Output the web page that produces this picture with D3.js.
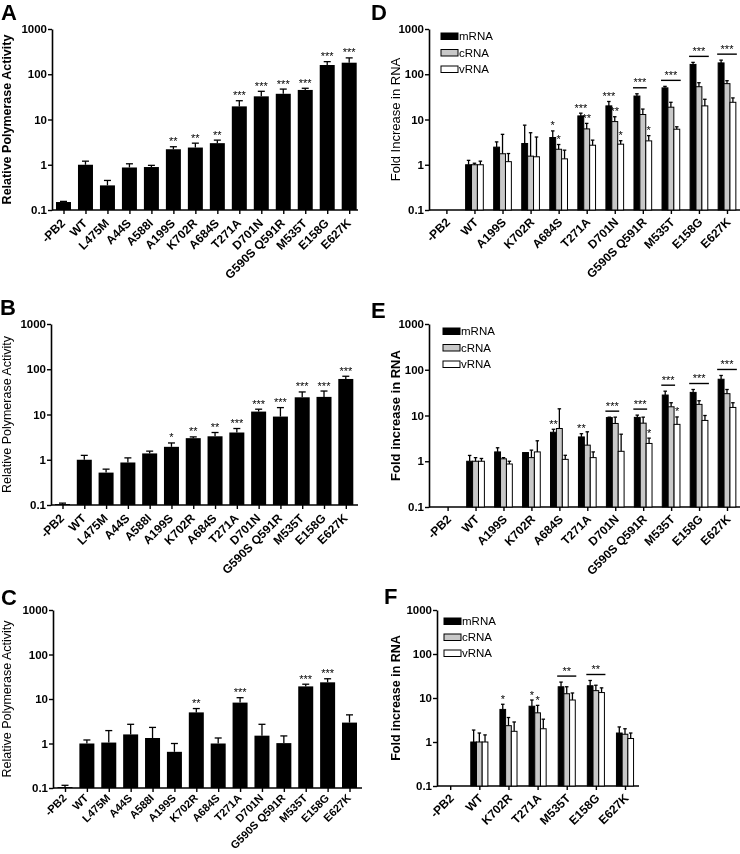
<!DOCTYPE html>
<html><head><meta charset="utf-8">
<script src="https://cdn.jsdelivr.net/npm/d3@7"></script>
<style>body{margin:0;background:#fff} svg{will-change:transform} text{font-family:"Liberation Sans",Arial,sans-serif}</style>
</head><body><svg id="c" width="740" height="854"></svg>
<script>
// ---------- DATA ----------
const catsABC = ["-PB2","WT","L475M","A44S","A588I","A199S","K702R","A684S","T271A","D701N","G590S Q591R","M535T","E158G","E627K"];
const yTicks = [0.1, 1, 10, 100, 1000];

const valuesA = [0.15,1.0,0.35,0.87,0.89,2.2,2.4,3.0,19.5,32.5,37,45,160,180];
const errTopA = [0.155,1.2,0.45,1.05,0.97,2.5,3.0,3.5,26,42,47,49,190,230];
const starsA  = ["","","","","","**","**","**","***","***","***","***","***","***"];

const valuesB = [0.105,1.0,0.52,0.87,1.38,1.93,3.0,3.3,4.0,11.6,9.0,24,24.5,61];
const errTopB = [0.11,1.25,0.62,1.1,1.55,2.35,3.2,4.0,4.9,13.1,14.2,31.5,33,70];
const starsB  = ["","","","","","*","**","**","***","***","***","***","***","***"];

const valuesC = [0.105,1.0,1.05,1.6,1.33,0.65,5.0,1.0,8.3,1.5,1.02,19.2,23.7,2.95];
const errTopC = [0.115,1.2,1.95,2.7,2.3,1.0,6.1,1.33,10.7,2.7,1.48,21.5,28.5,4.4];
const starsC  = ["","","","","","","**","","***","","","***","***",""];

const seriesNames = ["mRNA","cRNA","vRNA"];
const catsDE = ["-PB2","WT","A199S","K702R","A684S","T271A","D701N","G590S Q591R","M535T","E158G","E627K"];

const mrnaD    = [null,1.0,2.45,2.95,4.0,12,20,33,50,165,178];
const mrnaErrD = [null,1.25,3.2,7.5,5.6,13.8,25,37,54,183,205];
const mrnaStarD= ["","","","","*","***","***","","","",""];
const crnaD    = [null,1.0,1.75,1.55,2.2,6.2,9.0,12.9,18.7,53,62];
const crnaErrD = [null,1.08,4.7,5.1,2.8,8.2,11.5,17,24,65,72];
const crnaStarD= ["","","","","*","**","**","","","",""];
const vrnaD    = [null,1.0,1.17,1.5,1.35,2.7,2.85,3.37,6.1,20,24];
const vrnaErrD = [null,1.2,1.77,4.1,2.1,3.5,3.4,4.4,6.9,28,30];
const vrnaStarD= ["","","","","","","*","*","","",""];
const bracketCatsD = ["G590S Q591R","M535T","E158G","E627K"];
const bracketLabelD = ["***","***","***","***"];
const bracketSpanD = [2,3,3,3];

const mrnaE    = [null,1.0,1.6,1.55,4.3,3.4,9.0,9.1,28,32,62];
const mrnaErrE = [null,1.34,1.97,1.55,5.0,4.0,9.2,10.2,34,37,75];
const mrnaStarE= ["","","","","**","**","","","","",""];
const crnaE    = [null,1.0,1.13,1.2,5.2,2.25,6.7,6.8,15.5,17.5,30];
const crnaErrE = [null,1.2,1.2,1.75,14,4.4,9.2,9.2,19,21,37];
const crnaStarE= ["","","","","","","","","","",""];
const vrnaE    = [null,1.0,0.87,1.6,1.1,1.2,1.65,2.45,6.4,7.8,15];
const vrnaErrE = [null,1.15,1.0,2.8,1.35,1.6,3.9,3.2,9.3,10,19];
const vrnaStarE= ["","","","","","","","*","*","",""];
const bracketCatsE = ["D701N","G590S Q591R","M535T","E158G","E627K"];
const bracketLabelE = ["***","***","***","***","***"];
const bracketSpanE = [2,2,2,3,3];

const catsF = ["-PB2","WT","K702R","T271A","M535T","E158G","E627K"];
const mrnaF    = [null,1.0,5.5,6.5,18,19,1.6];
const mrnaErrF = [null,1.87,7.2,9.0,23,25,2.2];
const mrnaStarF= ["","","*","*","","",""];
const crnaF    = [null,1.0,2.35,4.6,12.5,14.7,1.5];
const crnaErrF = [null,1.6,3.6,6.8,18,19.5,2.0];
const crnaStarF= ["","","","*","","",""];
const vrnaF    = [null,1.0,1.75,2.0,9.0,13.3,1.2];
const vrnaErrF = [null,1.45,2.85,3.3,13,17,1.6];
const vrnaStarF= ["","","","","","",""];
const bracketCatsF = ["M535T","E158G"];
const bracketLabelF = ["**","**"];
const bracketSpanF = [3,3];

// ---------- STYLE ----------
const fills = ["#000000","#c8c8c8","#ffffff"];
const svg = d3.select("#c");

function drawPanel(cfg){
  const g = svg.append("g");
  const y = d3.scaleLog().domain([0.1,1000]).range([cfg.yBot, cfg.yTop]);
  const x = d3.scalePoint().domain(cfg.cats).range([cfg.c0, cfg.c1]);

  g.append("text").attr("x",cfg.letter[0]).attr("y",cfg.letter[1])
    .attr("font-size",22).attr("font-weight","bold").text(cfg.letter[2]);
  g.append("text")
    .attr("transform",`translate(${cfg.titleX},${(cfg.yTop+cfg.yBot)/2}) rotate(-90)`)
    .attr("text-anchor","middle").attr("font-size",cfg.titleSize)
    .attr("font-weight",cfg.titleBold?"bold":"normal").text(cfg.title);

  const ya = g.append("g").attr("transform",`translate(${cfg.x0},0)`)
    .call(d3.axisLeft(y).tickValues(yTicks).tickFormat(d=>String(d)).tickSize(4).tickSizeOuter(0));
  ya.select(".domain").attr("stroke-width",1.6);
  ya.selectAll(".tick line").attr("stroke-width",1.4);
  ya.selectAll("text").attr("font-size",11.5).attr("font-weight","bold")
    .attr("font-family","Liberation Sans, Arial, sans-serif").attr("fill","#000").attr("x",-5);

  const xa = g.append("g").attr("transform",`translate(0,${cfg.yBot})`)
    .call(d3.axisBottom(x).tickSize(4).tickSizeOuter(0));
  xa.select(".domain").remove();
  xa.selectAll(".tick line").attr("stroke-width",1.4);
  xa.selectAll("text").attr("font-size",cfg.labelSize).attr("font-weight","bold")
    .attr("font-family","Liberation Sans, Arial, sans-serif").attr("fill","#000")
    .attr("text-anchor","end").attr("y",0).attr("dy","0.35em")
    .attr("transform",`translate(${cfg.labelDx},${cfg.labelDy}) rotate(-45)`);
  g.append("line").attr("x1",cfg.x0).attr("x2",cfg.xEnd)
    .attr("y1",cfg.yBot).attr("y2",cfg.yBot).attr("stroke","#000").attr("stroke-width",1.6);

  const ns = cfg.series.length;
  const bw = cfg.barW;
  const barX = (cat, si) => ns===1 ? x(cat)-bw/2 : x(cat) + (si - (ns-1)/2)*bw - bw/2;
  cfg.series.forEach((s, si) => {
    cfg.cats.forEach((cat, i) => {
      const v = s.vals[i];
      if (v==null) return;
      const bx = barX(cat, si);
      g.append("rect").attr("x",bx).attr("y",y(v)).attr("width",bw)
        .attr("height",cfg.yBot - y(v)).attr("fill",fills[si])
        .attr("stroke","#000").attr("stroke-width",ns===1?0:1);
      const e = s.errs[i];
      const cx = bx + bw/2;
      if (e!=null && e>v){
        g.append("line").attr("x1",cx).attr("x2",cx).attr("y1",y(v)).attr("y2",y(e))
          .attr("stroke","#000").attr("stroke-width",1.3);
        g.append("line").attr("x1",cx-cfg.cap/2).attr("x2",cx+cfg.cap/2)
          .attr("y1",y(e)).attr("y2",y(e)).attr("stroke","#000").attr("stroke-width",1.3);
      }
      const top = y(Math.max(v, e||v));
      if (s.stars && s.stars[i]){
        g.append("text").attr("x",cx).attr("y",top-1.5).attr("text-anchor","middle")
          .attr("font-size",11).attr("fill","#000").text(s.stars[i]);
      }
    });
  });

  if (cfg.brackets){
    cfg.brackets.cats.forEach((cat,k)=>{
      const span = cfg.brackets.spans[k];
      const i = cfg.cats.indexOf(cat);
      let top = 1e9;
      for (let si=0; si<span; si++){
        const s = cfg.series[si];
        top = Math.min(top, y(Math.max(s.vals[i], s.errs[i])));
      }
      const ly = top - 6;
      const xL = barX(cat,0) - 1, xR = barX(cat,span-1) + bw + 1;
      g.append("line").attr("x1",xL).attr("x2",xR).attr("y1",ly).attr("y2",ly)
        .attr("stroke","#000").attr("stroke-width",1.4);
      g.append("text").attr("x",(xL+xR)/2).attr("y",ly-1.5).attr("text-anchor","middle")
        .attr("font-size",11).attr("fill","#000").text(cfg.brackets.labels[k]);
    });
  }

  if (cfg.legend){
    seriesNames.forEach((n,si)=>{
      const ly = cfg.legend[1] + si*cfg.legend[2];
      g.append("rect").attr("x",cfg.legend[0]).attr("y",ly-3).attr("width",17).attr("height",6.5)
        .attr("fill",fills[si]).attr("stroke","#000").attr("stroke-width",1);
      g.append("text").attr("x",cfg.legend[0]+18).attr("y",ly).attr("dy","0.35em")
        .attr("font-size",11.5).text(n);
    });
  }
}

const singleCommon = {barW:15, cap:7, labelSize:12, labelDx:-1, labelDy:11};
drawPanel({...singleCommon, cats:catsABC, x0:52, yTop:29, yBot:210, c0:63.5, c1:349.2, xEnd:358,
  letter:[1,20,"A"], title:"Relative Polymerase Activity", titleBold:true, titleSize:12.5, titleX:11,
  series:[{vals:valuesA, errs:errTopA, stars:starsA}]});
drawPanel({...singleCommon, cats:catsABC, x0:51, yTop:324, yBot:505, c0:62.5, c1:345.8, xEnd:358,
  letter:[0,315,"B"], title:"Relative Polymerase Activity", titleBold:false, titleSize:12.5, titleX:11,
  series:[{vals:valuesB, errs:errTopB, stars:starsB}]});
drawPanel({...singleCommon, labelSize:11, labelDy:8, cats:catsABC, x0:53, yTop:610, yBot:788, c0:65, c1:349.5, xEnd:362,
  letter:[1,605,"C"], title:"Relative Polymerase Activity", titleBold:false, titleSize:12.5, titleX:11,
  series:[{vals:valuesC, errs:errTopC, stars:starsC}]});

const groupCommon = {barW:5.9, cap:3.5, labelSize:12, labelDx:1, labelDy:10};
drawPanel({...groupCommon, cats:catsDE, x0:429, yTop:29, yBot:210, c0:446.4, c1:727, xEnd:740,
  letter:[371,20,"D"], title:"Fold Increase in RNA", titleBold:false, titleSize:13, titleX:400,
  legend:[441,36,16.5],
  series:[{vals:mrnaD, errs:mrnaErrD, stars:mrnaStarD},{vals:crnaD, errs:crnaErrD, stars:crnaStarD},{vals:vrnaD, errs:vrnaErrD, stars:vrnaStarD}],
  brackets:{cats:bracketCatsD, labels:bracketLabelD, spans:bracketSpanD}});
drawPanel({...groupCommon, cats:catsDE, x0:429, yTop:324, yBot:507, c0:447.6, c1:727, xEnd:740,
  letter:[371,318,"E"], title:"Fold increase in RNA", titleBold:true, titleSize:13, titleX:400,
  legend:[443,331,16.5],
  series:[{vals:mrnaE, errs:mrnaErrE, stars:mrnaStarE},{vals:crnaE, errs:crnaErrE, stars:crnaStarE},{vals:vrnaE, errs:vrnaErrE, stars:vrnaStarE}],
  brackets:{cats:bracketCatsE, labels:bracketLabelE, spans:bracketSpanE}});
drawPanel({...groupCommon, barW:5.7, cats:catsF, x0:437, yTop:610, yBot:786, c0:450.2, c1:625, xEnd:639,
  letter:[384,604,"F"], title:"Fold increase in RNA", titleBold:true, titleSize:12.5, titleX:400,
  legend:[444,621,16],
  series:[{vals:mrnaF, errs:mrnaErrF, stars:mrnaStarF},{vals:crnaF, errs:crnaErrF, stars:crnaStarF},{vals:vrnaF, errs:vrnaErrF, stars:vrnaStarF}],
  brackets:{cats:bracketCatsF, labels:bracketLabelF, spans:bracketSpanF}});
</script></body></html>
